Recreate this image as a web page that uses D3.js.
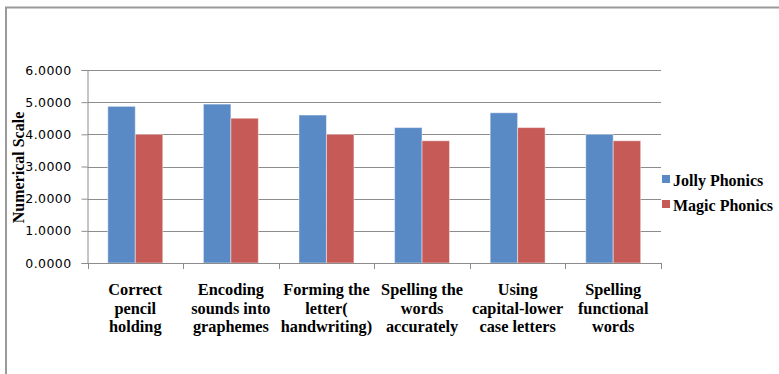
<!DOCTYPE html>
<html>
<head>
<meta charset="utf-8">
<script src="https://cdn.jsdelivr.net/npm/d3@7"></script>
</head>
<body style="margin:0;background:#fff">
<div id="chart"></div>
<script>
// chart data
const categories = [
    ["Correct", "pencil", "holding"],
    ["Encoding", "sounds into", "graphemes"],
    ["Forming the", "letter(", "handwriting)"],
    ["Spelling the", "words", "accurately"],
    ["Using", "capital-lower", "case letters"],
    ["Spelling", "functional", "words"]
];
const seriesNames = ["Jolly Phonics", "Magic Phonics"];
const jolly = [4.87, 4.94, 4.60, 4.21, 4.67, 4.00];
const magic = [4.00, 4.50, 4.00, 3.80, 4.21, 3.80];
const yTicks = [0, 1, 2, 3, 4, 5, 6];

const colors = ["#5A8AC6", "#C55A57"];
const width = 779, height = 374;
const sans = 'DejaVu Sans';

const svg = d3.select('#chart').append('svg')
    .attr('width', width)
    .attr('height', height)
    .style('display', 'block');

// outer frame (only top and left edges are in view)
svg.append('path')
    .attr('d', `M6,${height} V7.5 H${width}`)
    .attr('fill', 'none')
    .attr('stroke', '#9a9a9a')
    .attr('stroke-width', 2);

// plot area
const plot = {left: 87.5, right: 661, top: 70, bottom: 263};

const x0 = d3.scaleBand()
    .domain(d3.range(categories.length))
    .range([plot.left, plot.right])
    .padding(0);

const x1 = d3.scaleBand()
    .domain(seriesNames)
    .range([0, x0.bandwidth()])
    .paddingInner(0)
    .paddingOuter(0.74);

const y = d3.scaleLinear()
    .domain([0, 6])
    .range([plot.bottom, plot.top]);

// gridlines
svg.append('g')
    .selectAll('line.grid')
    .data(yTicks)
    .join('line')
    .classed('grid', true)
    .attr('x1', plot.left)
    .attr('x2', plot.right)
    .attr('y1', d => Math.round(y(d)) + 0.5)
    .attr('y2', d => Math.round(y(d)) + 0.5)
    .attr('stroke', '#8c8c8c')
    .attr('stroke-width', 1);

// bars
const groups = svg.append('g')
    .selectAll('g.cat')
    .data(categories.map((c, i) => i))
    .join('g')
    .classed('cat', true)
    .attr('transform', i => `translate(${x0(i)},0)`);

groups.selectAll('rect')
    .data(i => [
        {name: seriesNames[0], value: jolly[i], color: colors[0]},
        {name: seriesNames[1], value: magic[i], color: colors[1]}
    ])
    .join('rect')
    .attr('x', d => x1(d.name))
    .attr('width', x1.bandwidth())
    .attr('y', d => y(d.value))
    .attr('height', d => y(0) - y(d.value))
    .attr('fill', d => d.color)
    .attr('stroke', 'rgba(255,255,255,0.45)')
    .attr('stroke-width', 1);

// y axis
const yAxis = d3.axisLeft(y)
    .tickValues(yTicks)
    .tickSize(6)
    .tickPadding(10)
    .tickFormat(d3.format('.4f'));

const yg = svg.append('g')
    .attr('transform', `translate(${plot.left},0)`)
    .call(yAxis)
    .attr('font-family', sans)
    .attr('font-size', 12.5);
yg.select('.domain').attr('stroke', '#8c8c8c');
yg.selectAll('.tick line').attr('stroke', '#8c8c8c');
yg.selectAll('.tick text')
    .attr('fill', '#000')
    .attr('letter-spacing', 0.4);

// x axis baseline and ticks at category boundaries
const boundaries = d3.range(categories.length + 1)
    .map(i => i < categories.length ? x0(i) : x0(i - 1) + x0.bandwidth());

svg.append('line')
    .attr('x1', plot.left)
    .attr('x2', plot.right)
    .attr('y1', plot.bottom + 0.5)
    .attr('y2', plot.bottom + 0.5)
    .attr('stroke', '#8c8c8c');

svg.append('g')
    .selectAll('line')
    .data(boundaries)
    .join('line')
    .attr('x1', d => Math.round(d) + 0.5)
    .attr('x2', d => Math.round(d) + 0.5)
    .attr('y1', plot.bottom)
    .attr('y2', plot.bottom + 6)
    .attr('stroke', '#8c8c8c');

// category labels
svg.append('g')
    .selectAll('text')
    .data(categories)
    .join('text')
    .attr('font-family', 'Liberation Serif')
    .attr('font-weight', 'bold')
    .attr('font-size', 16.3)
    .attr('text-anchor', 'middle')
    .attr('transform', (d, i) => `translate(${x0(i) + x0.bandwidth() / 2},295)`)
    .selectAll('tspan')
    .data(d => d)
    .join('tspan')
    .attr('x', 0)
    .attr('y', (d, j) => j * 18.6)
    .text(d => d);

// y axis title
svg.append('text')
    .attr('font-family', 'Times New Roman')
    .attr('font-weight', 'bold')
    .attr('font-size', 16)
    .attr('text-anchor', 'middle')
    .attr('transform', `translate(24,${(plot.top + plot.bottom) / 2 + 1}) rotate(-90)`)
    .text('Numerical Scale');

// legend
const legend = svg.append('g')
    .attr('transform', 'translate(662,175)');

const items = legend.selectAll('g')
    .data(seriesNames)
    .join('g')
    .attr('transform', (d, i) => `translate(0,${i * 25})`);

items.append('rect')
    .attr('width', 8)
    .attr('height', 8)
    .attr('fill', (d, i) => colors[i]);

items.append('text')
    .attr('font-family', 'serif')
    .attr('font-weight', 'bold')
    .attr('font-size', 16)
    .attr('x', 11)
    .attr('y', 10.5)
    .text(d => d);
</script>
</body>
</html>
